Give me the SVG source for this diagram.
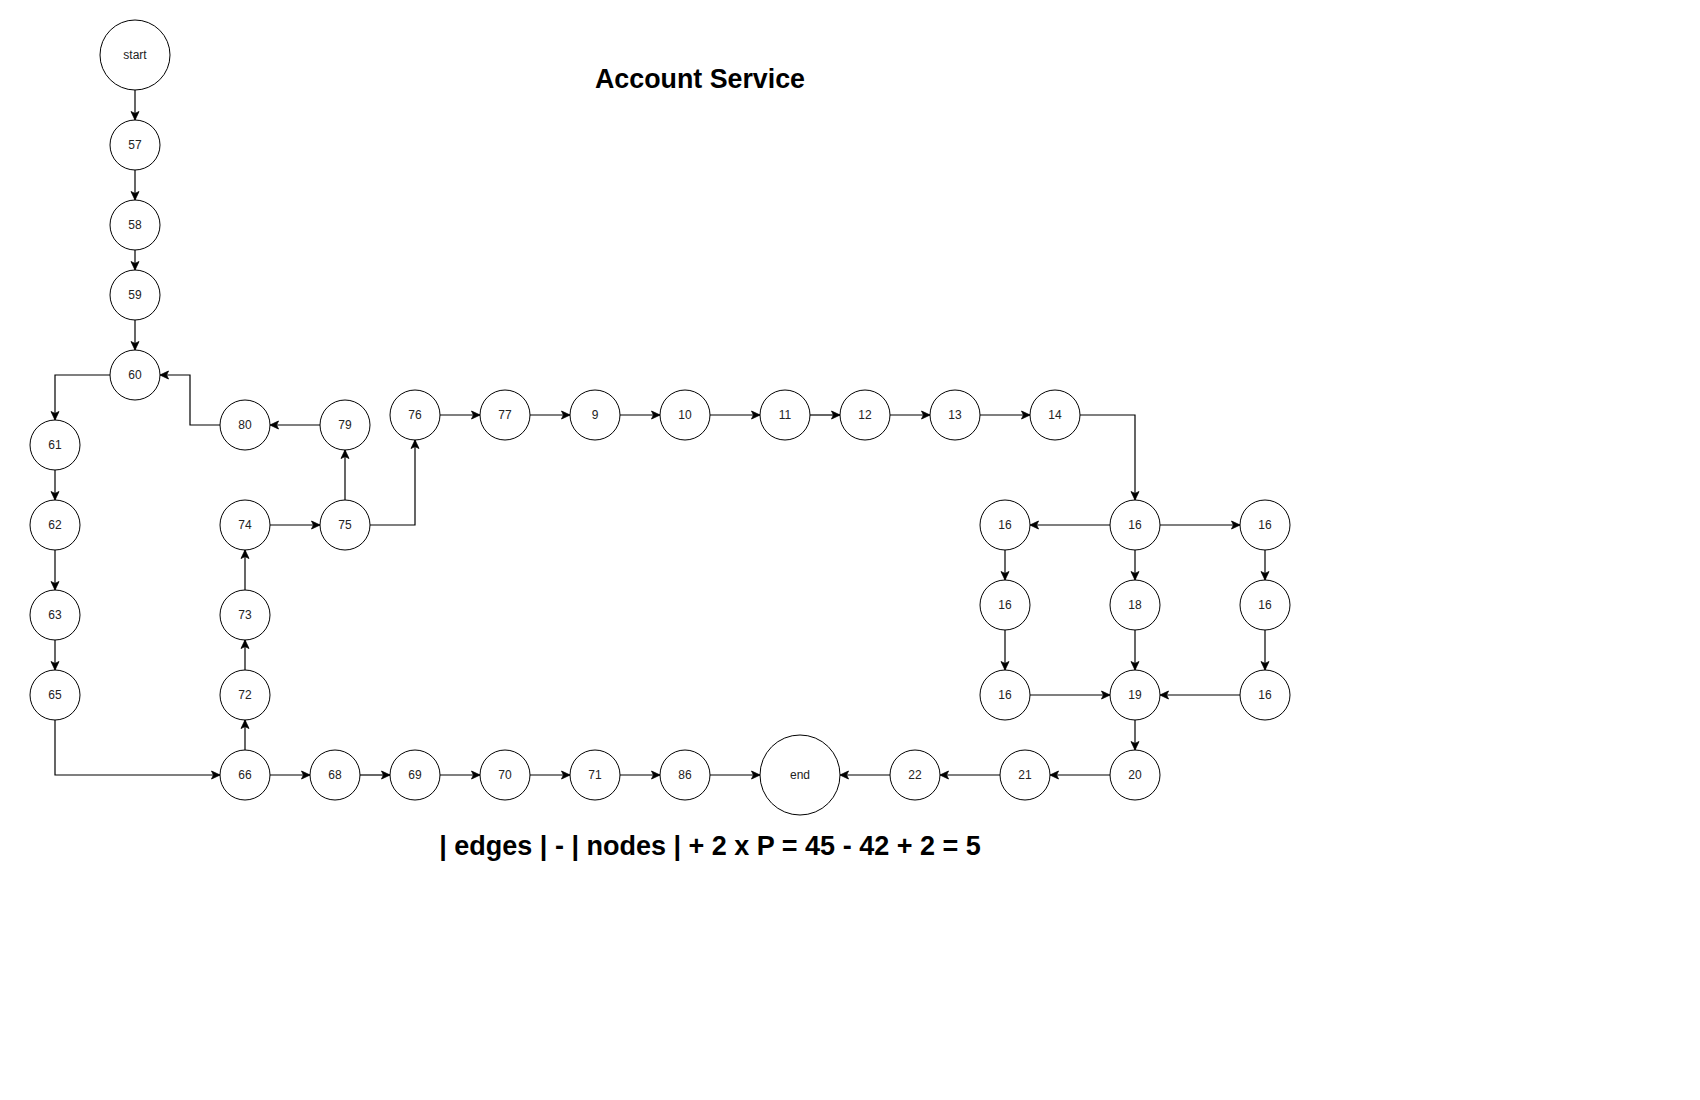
<svg xmlns="http://www.w3.org/2000/svg" width="1700" height="1100" viewBox="0 0 1700 1100">
<style>
.n circle{fill:#fff;stroke:#000;stroke-width:1}
.n text{font-family:"Liberation Sans",Arial,sans-serif;font-size:12px;fill:#222;text-anchor:middle;dominant-baseline:central}
.e path{fill:none;stroke:#000;stroke-width:1.2;marker-end:url(#arr)}
.t{font-family:"Liberation Sans",Arial,sans-serif;font-weight:bold;fill:#000;text-anchor:middle}
</style>
<defs>
<marker id="arr" viewBox="-9 -5 10 10" refX="0" refY="0" markerWidth="10" markerHeight="10" markerUnits="userSpaceOnUse" orient="auto">
<path d="M0,0 L-8.5,-4 L-6.5,0 L-8.5,4 Z" fill="#000" stroke="#000" stroke-width="0.8"/>
</marker>
</defs>
<rect width="1700" height="1100" fill="#fff"/>
<text class="t" x="700" y="88" font-size="26.8">Account Service</text>
<text class="t" x="710" y="855" font-size="27">| edges | - | nodes | + 2 x P = 45 - 42 + 2 = 5</text>
<g id="connectors" class="e">
<path d="M135,90 V120"/>
<path d="M135,170 V200"/>
<path d="M135,250 V270"/>
<path d="M135,320 V350"/>
<path d="M110,375 H55 V420"/>
<path d="M55,470 V500"/>
<path d="M55,550 V590"/>
<path d="M55,640 V670"/>
<path d="M55,720 V775 H220"/>
<path d="M245,750 V720"/>
<path d="M245,670 V640"/>
<path d="M245,590 V550"/>
<path d="M270,525 H320"/>
<path d="M345,500 V450"/>
<path d="M320,425 H270"/>
<path d="M220,425 H190 V375 H160"/>
<path d="M370,525 H415 V440"/>
<path d="M440,415 H480"/>
<path d="M530,415 H570"/>
<path d="M620,415 H660"/>
<path d="M710,415 H760"/>
<path d="M810,415 H840"/>
<path d="M890,415 H930"/>
<path d="M980,415 H1030"/>
<path d="M1080,415 H1135 V500"/>
<path d="M1110,525 H1030"/>
<path d="M1160,525 H1240"/>
<path d="M1135,550 V580"/>
<path d="M1005,550 V580"/>
<path d="M1265,550 V580"/>
<path d="M1005,630 V670"/>
<path d="M1135,630 V670"/>
<path d="M1265,630 V670"/>
<path d="M1030,695 H1110"/>
<path d="M1240,695 H1160"/>
<path d="M1135,720 V750"/>
<path d="M1110,775 H1050"/>
<path d="M1000,775 H940"/>
<path d="M890,775 H840"/>
<path d="M270,775 H310"/>
<path d="M360,775 H390"/>
<path d="M440,775 H480"/>
<path d="M530,775 H570"/>
<path d="M620,775 H660"/>
<path d="M710,775 H760"/>
</g>
<g id="n-start" class="n"><circle cx="135" cy="55" r="35"/><text x="135" y="55">start</text></g>
<g id="n57" class="n"><circle cx="135" cy="145" r="25"/><text x="135" y="145">57</text></g>
<g id="n58" class="n"><circle cx="135" cy="225" r="25"/><text x="135" y="225">58</text></g>
<g id="n59" class="n"><circle cx="135" cy="295" r="25"/><text x="135" y="295">59</text></g>
<g id="n60" class="n"><circle cx="135" cy="375" r="25"/><text x="135" y="375">60</text></g>
<g id="n61" class="n"><circle cx="55" cy="445" r="25"/><text x="55" y="445">61</text></g>
<g id="n62" class="n"><circle cx="55" cy="525" r="25"/><text x="55" y="525">62</text></g>
<g id="n63" class="n"><circle cx="55" cy="615" r="25"/><text x="55" y="615">63</text></g>
<g id="n65" class="n"><circle cx="55" cy="695" r="25"/><text x="55" y="695">65</text></g>
<g id="n66" class="n"><circle cx="245" cy="775" r="25"/><text x="245" y="775">66</text></g>
<g id="n72" class="n"><circle cx="245" cy="695" r="25"/><text x="245" y="695">72</text></g>
<g id="n73" class="n"><circle cx="245" cy="615" r="25"/><text x="245" y="615">73</text></g>
<g id="n74" class="n"><circle cx="245" cy="525" r="25"/><text x="245" y="525">74</text></g>
<g id="n75" class="n"><circle cx="345" cy="525" r="25"/><text x="345" y="525">75</text></g>
<g id="n79" class="n"><circle cx="345" cy="425" r="25"/><text x="345" y="425">79</text></g>
<g id="n80" class="n"><circle cx="245" cy="425" r="25"/><text x="245" y="425">80</text></g>
<g id="n76" class="n"><circle cx="415" cy="415" r="25"/><text x="415" y="415">76</text></g>
<g id="n77" class="n"><circle cx="505" cy="415" r="25"/><text x="505" y="415">77</text></g>
<g id="n9" class="n"><circle cx="595" cy="415" r="25"/><text x="595" y="415">9</text></g>
<g id="n10" class="n"><circle cx="685" cy="415" r="25"/><text x="685" y="415">10</text></g>
<g id="n11" class="n"><circle cx="785" cy="415" r="25"/><text x="785" y="415">11</text></g>
<g id="n12" class="n"><circle cx="865" cy="415" r="25"/><text x="865" y="415">12</text></g>
<g id="n13" class="n"><circle cx="955" cy="415" r="25"/><text x="955" y="415">13</text></g>
<g id="n14" class="n"><circle cx="1055" cy="415" r="25"/><text x="1055" y="415">14</text></g>
<g id="n16c" class="n"><circle cx="1135" cy="525" r="25"/><text x="1135" y="525">16</text></g>
<g id="n16l1" class="n"><circle cx="1005" cy="525" r="25"/><text x="1005" y="525">16</text></g>
<g id="n16r1" class="n"><circle cx="1265" cy="525" r="25"/><text x="1265" y="525">16</text></g>
<g id="n16l2" class="n"><circle cx="1005" cy="605" r="25"/><text x="1005" y="605">16</text></g>
<g id="n18" class="n"><circle cx="1135" cy="605" r="25"/><text x="1135" y="605">18</text></g>
<g id="n16r2" class="n"><circle cx="1265" cy="605" r="25"/><text x="1265" y="605">16</text></g>
<g id="n16l3" class="n"><circle cx="1005" cy="695" r="25"/><text x="1005" y="695">16</text></g>
<g id="n19" class="n"><circle cx="1135" cy="695" r="25"/><text x="1135" y="695">19</text></g>
<g id="n16r3" class="n"><circle cx="1265" cy="695" r="25"/><text x="1265" y="695">16</text></g>
<g id="n20" class="n"><circle cx="1135" cy="775" r="25"/><text x="1135" y="775">20</text></g>
<g id="n21" class="n"><circle cx="1025" cy="775" r="25"/><text x="1025" y="775">21</text></g>
<g id="n22" class="n"><circle cx="915" cy="775" r="25"/><text x="915" y="775">22</text></g>
<g id="n-end" class="n"><circle cx="800" cy="775" r="40"/><text x="800" y="775">end</text></g>
<g id="n68" class="n"><circle cx="335" cy="775" r="25"/><text x="335" y="775">68</text></g>
<g id="n69" class="n"><circle cx="415" cy="775" r="25"/><text x="415" y="775">69</text></g>
<g id="n70" class="n"><circle cx="505" cy="775" r="25"/><text x="505" y="775">70</text></g>
<g id="n71" class="n"><circle cx="595" cy="775" r="25"/><text x="595" y="775">71</text></g>
<g id="n86" class="n"><circle cx="685" cy="775" r="25"/><text x="685" y="775">86</text></g>
</svg>
